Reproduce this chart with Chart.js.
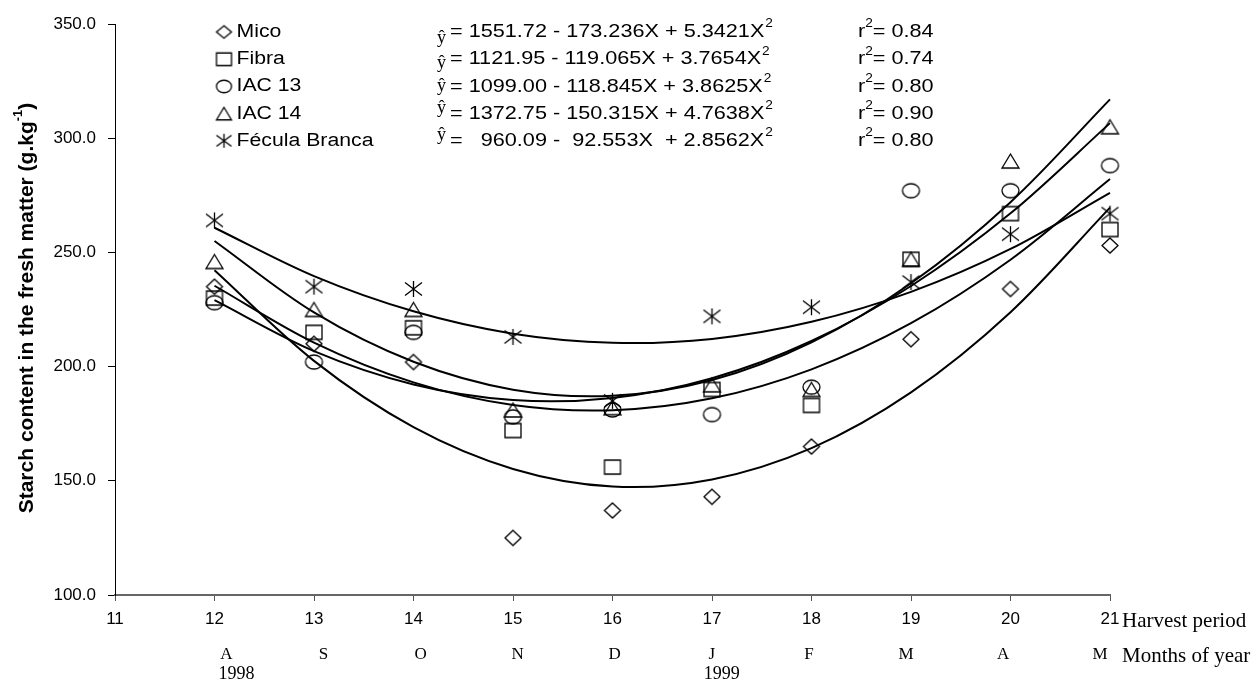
<!DOCTYPE html>
<html>
<head>
<meta charset="utf-8">
<script src="https://cdn.jsdelivr.net/npm/chart.js@4.4.1/dist/chart.umd.min.js"></script>
<style>
    html, body { margin: 0; padding: 0; background: #fff; }
    #wrap { width: 1253px; height: 682px; }
</style>
</head>
<body>
<div id="wrap"><canvas id="starch_chart" width="1253" height="682"></canvas></div>
<script>
const harvestPeriod = [12, 13, 14, 15, 16, 17, 18, 19, 20, 21];
const monthsOfYear = ['A', 'S', 'O', 'N', 'D', 'J', 'F', 'M', 'A', 'M'];
const yearLabels = ['1998', '', '', '', '', '1999', '', '', '', ''];

const varieties = ['Mico', 'Fibra', 'IAC 13', 'IAC 14', 'Fécula Branca'];

const micoValues   = [235, 210, 202, 125, 137, 143, 165, 212, 234, 253];
const fibraValues  = [230, 215, 217, 172, 156, 190, 183, 247, 267, 260];
const iac13Values  = [228, 202, 215, 178, 181, 179, 191, 277, 277, 288];
const iac14Values  = [246, 225, 225, 181, 182, 192, 190, 247, 290, 305];
const feculaValues = [264, 235, 234, 213, 185, 222, 226, 237, 258, 267];

// fitted curves, read at each harvest period
const micoFit   = [242.2, 202.5, 173.5, 155.2, 147.5, 150.6, 164.3, 188.7, 223.8, 269.6];
const fibraFit  = [235.4, 210.5, 193.1, 183.2, 180.9, 186.1, 198.8, 219.0, 246.8, 282.1];
const iac13Fit  = [229.1, 206.8, 192.2, 185.4, 186.3, 194.9, 211.2, 235.3, 267.1, 306.6];
const iac14Fit  = [255.0, 223.7, 202.1, 189.9, 187.2, 194.1, 210.6, 236.5, 272.0, 317.0];
const feculaFit = [260.8, 239.6, 224.2, 214.4, 210.4, 212.1, 219.6, 232.7, 251.5, 276.1];

const equations = [
    '= 1551.72 - 173.236X + 5.3421X',
    '= 1121.95 - 119.065X + 3.7654X',
    '= 1099.00 - 118.845X + 3.8625X',
    '= 1372.75 - 150.315X + 4.7638X',
    '=   960.09 -  92.553X  + 2.8562X',
];
const rSquared = ['0.84', '0.74', '0.80', '0.90', '0.80'];

const SANS = '"Liberation Sans", Arial, sans-serif';
const SERIF = '"Liberation Serif", "Times New Roman", serif';

const makeMarker = (kind, w, h) => {
    const c = document.createElement('canvas');
    c.width = Math.ceil(w) + 4;
    c.height = Math.ceil(h) + 4;
    const ctx = c.getContext('2d');
    const cx = c.width / 2, cy = c.height / 2, rx = w / 2, ry = h / 2;
    ctx.strokeStyle = '#000';
    ctx.lineWidth = 1.3;
    ctx.beginPath();
    if (kind === 'diamond') {
        ctx.moveTo(cx, cy - ry); ctx.lineTo(cx + rx, cy); ctx.lineTo(cx, cy + ry); ctx.lineTo(cx - rx, cy); ctx.closePath();
    } else if (kind === 'square') {
        ctx.rect(cx - rx, cy - ry, w, h);
    } else if (kind === 'circle') {
        ctx.ellipse(cx, cy, rx, ry, 0, 0, Math.PI * 2);
    } else if (kind === 'triangle') {
        ctx.moveTo(cx, cy - ry); ctx.lineTo(cx + rx, cy + ry); ctx.lineTo(cx - rx, cy + ry); ctx.closePath();
    } else {
        ctx.moveTo(cx, cy - ry); ctx.lineTo(cx, cy + ry);
        ctx.moveTo(cx - rx, cy - ry * 0.8); ctx.lineTo(cx + rx, cy + ry * 0.8);
        ctx.moveTo(cx + rx, cy - ry * 0.8); ctx.lineTo(cx - rx, cy + ry * 0.8);
    }
    ctx.stroke();
    return c;
};

const markerKinds = ['diamond', 'square', 'circle', 'triangle', 'asterisk'];
const plotMarkers = [
    makeMarker('diamond', 16, 15),
    makeMarker('square', 16, 14),
    makeMarker('circle', 17, 14),
    makeMarker('triangle', 17, 14),
    makeMarker('asterisk', 17, 16),
];
const legendMarkers = markerKinds.map(k => makeMarker(k, 15, k === 'asterisk' ? 14 : 12.5));

const toPoints = (values) => harvestPeriod.map((x, i) => ({ x: x, y: values[i] }));

const observed = [micoValues, fibraValues, iac13Values, iac14Values, feculaValues];
const fitted = [micoFit, fibraFit, iac13Fit, iac14Fit, feculaFit];

const scatterSets = observed.map((values, i) => ({
    label: varieties[i],
    data: toPoints(values),
    showLine: false,
    clip: false,
    pointStyle: plotMarkers[i],
    pointRadius: 9,
    pointHoverRadius: 9,
}));

const curveSets = fitted.map((values, i) => ({
    label: varieties[i] + ' fit',
    data: toPoints(values),
    showLine: true,
    clip: false,
    fill: false,
    borderColor: '#000',
    borderWidth: 2,
    tension: 0.33,
    pointRadius: 0,
    pointHoverRadius: 0,
}));

// draws text stretched sideways like the original text boxes
const drawWide = (ctx, text, x, y, font, sx) => {
    ctx.save();
    ctx.translate(x, y);
    ctx.scale(sx, 1);
    ctx.font = font;
    ctx.fillText(text, 0, 0);
    const w = ctx.measureText(text).width * sx;
    ctx.restore();
    return x + w;
};

const hatOffsets = [6, 4, 0, -5, -6];

const extraTextPlugin = {
    id: 'extraText',
    afterDraw(chart) {
        const ctx = chart.ctx;
        const xs = chart.scales.x;
        const area = chart.chartArea;
        ctx.save();
        ctx.fillStyle = '#000';
        ctx.textBaseline = 'middle';

        // y axis title with superscript
        ctx.save();
        ctx.translate(27, 308);
        ctx.rotate(-Math.PI / 2);
        const mainFont = 'bold 21px ' + SANS;
        const supFont = 'bold 13px ' + SANS;
        const mainText = 'Starch content in the fresh matter (g.kg';
        ctx.font = mainFont;
        const w1 = ctx.measureText(mainText).width;
        const w3 = ctx.measureText(')').width;
        ctx.font = supFont;
        const w2 = ctx.measureText('-1').width;
        const tx = -(w1 + w2 + w3) / 2;
        ctx.textAlign = 'left';
        ctx.font = mainFont;
        ctx.fillText(mainText, tx, 0);
        ctx.font = supFont;
        ctx.fillText('-1', tx + w1, -9);
        ctx.font = mainFont;
        ctx.fillText(')', tx + w1 + w2, 0);
        ctx.restore();

        // x axis extra rows
        ctx.textAlign = 'left';
        ctx.font = '21px ' + SERIF;
        ctx.fillText('Harvest period', area.right + 12, 621);
        ctx.fillText('Months of year', area.right + 12, 656);

        ctx.textAlign = 'center';
        monthsOfYear.forEach((m, i) => {
            const px = xs.getPixelForValue(harvestPeriod[i] + 0.12 - i * 0.0244);
            ctx.font = '17px ' + SERIF;
            ctx.fillText(m, px, 655);
            if (yearLabels[i]) {
                ctx.font = '18px ' + SERIF;
                ctx.fillText(yearLabels[i], px + 10, 674);
            }
        });

        // legend with equations
        ctx.textAlign = 'left';
        const nameFont = '18px ' + SANS;
        const eqFont = '19px ' + SANS;
        const supEq = '12px ' + SANS;
        varieties.forEach((name, i) => {
            const y = 32 + i * 27.2;
            const mk = legendMarkers[i];
            ctx.drawImage(mk, 224 - mk.width / 2, y - mk.height / 2);
            drawWide(ctx, name, 236.5, y, nameFont, 1.18);

            ctx.font = '18px ' + SERIF;
            ctx.fillText('\u0177', 437, y + hatOffsets[i]);

            const endX = drawWide(ctx, equations[i], 450, y, eqFont, 1.14);
            drawWide(ctx, '2', endX + 1, y - 8, supEq, 1.14);

            const rEnd = drawWide(ctx, 'r', 858, y, eqFont, 1.14);
            const sEnd = drawWide(ctx, '2', rEnd, y - 8, supEq, 1.14);
            drawWide(ctx, '= ' + rSquared[i], sEnd, y, eqFont, 1.14);
        });
        ctx.restore();
    }
};

const config = {
    type: 'scatter',
    data: { datasets: [...curveSets, ...scatterSets] },
    options: {
        responsive: false,
        animation: false,
        events: [],
        layout: { padding: { top: 24, right: 143, left: 0, bottom: 0 } },
        plugins: {
            legend: { display: false },
            title: { display: false },
            tooltip: { enabled: false },
        },
        scales: {
            x: {
                type: 'linear',
                min: 11,
                max: 21,
                afterFit: (scale) => { scale.height = 87; },
                ticks: {
                    stepSize: 1,
                    color: '#000',
                    padding: 8,
                    font: { family: SANS, size: 17 },
                },
                grid: { drawOnChartArea: false, tickLength: 6, color: '#555', lineWidth: 1 },
                border: { display: true, color: '#666', width: 2 },
            },
            y: {
                type: 'linear',
                min: 100,
                max: 350,
                afterFit: (scale) => { scale.width = 115; },
                ticks: {
                    stepSize: 50,
                    color: '#000',
                    padding: 12,
                    font: { family: SANS, size: 17 },
                    callback: (value) => Number(value).toFixed(1),
                },
                grid: { drawOnChartArea: false, tickLength: 7, color: '#000', lineWidth: 1 },
                border: { display: true, color: '#000', width: 1 },
            },
        },
    },
    plugins: [extraTextPlugin],
};

new Chart(document.getElementById('starch_chart'), config);
</script>
</body>
</html>
